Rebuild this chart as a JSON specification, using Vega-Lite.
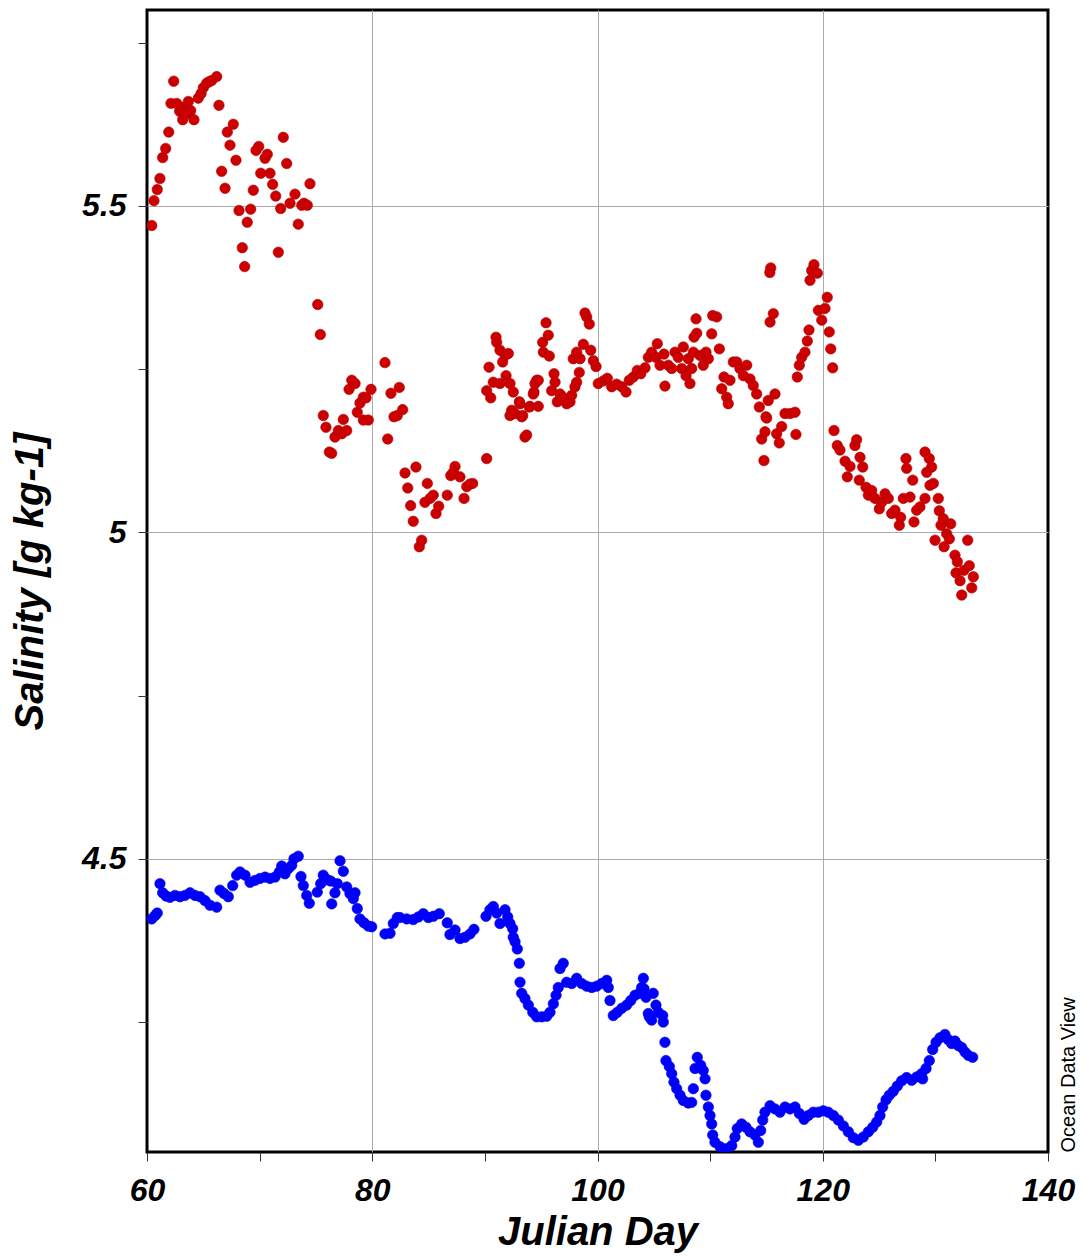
{
  "$schema": "https://vega.github.io/schema/vega-lite/v6.json",
  "width": 901,
  "height": 1142,
  "autosize": {"type": "none"},
  "padding": {"left": 147, "top": 10, "right": 39, "bottom": 104},
  "background": "white",
  "config": {
    "view": {"stroke": "black", "strokeWidth": 3},
    "axis": {
      "labelFont": "Liberation Sans",
      "titleFont": "Liberation Sans",
      "labelColor": "black",
      "titleColor": "black",
      "labelFontStyle": "italic",
      "labelFontWeight": "bold",
      "titleFontStyle": "italic",
      "titleFontWeight": "bold",
      "labelFontSize": 32,
      "titleFontSize": 40,
      "tickColor": "#333333",
      "tickWidth": 1,
      "tickSize": 9,
      "domain": false,
      "labelFlush": false,
      "labelOverlap": false,
      "gridColor": "#aaaaaa",
      "gridWidth": 1,
      "gridOpacity": 1
    }
  },
  "datasets": {
    "red": [
      {"d":60.42,"s":5.470},{"d":60.62,"s":5.508},{"d":60.91,"s":5.525},{"d":61.15,"s":5.542},{"d":61.39,"s":5.574},{"d":61.66,"s":5.588},{"d":61.93,"s":5.613},{"d":62.13,"s":5.657},{"d":62.37,"s":5.691},{"d":62.64,"s":5.657},{"d":62.9,"s":5.645},{"d":63.08,"s":5.651},{"d":63.17,"s":5.632},{"d":63.4,"s":5.640},{"d":63.67,"s":5.660},{"d":63.88,"s":5.646},{"d":64.17,"s":5.632},{"d":64.55,"s":5.665},{"d":64.8,"s":5.672},{"d":65.0,"s":5.681},{"d":65.3,"s":5.688},{"d":65.5,"s":5.690},{"d":65.74,"s":5.692},{"d":66.19,"s":5.698},{"d":66.39,"s":5.654},{"d":66.63,"s":5.553},{"d":66.93,"s":5.527},{"d":67.13,"s":5.613},{"d":67.37,"s":5.593},{"d":67.66,"s":5.625},{"d":67.9,"s":5.570},{"d":68.17,"s":5.493},{"d":68.46,"s":5.436},{"d":68.67,"s":5.407},{"d":68.9,"s":5.475},{"d":69.2,"s":5.495},{"d":69.44,"s":5.524},{"d":69.68,"s":5.585},{"d":69.92,"s":5.591},{"d":70.1,"s":5.550},{"d":70.48,"s":5.573},{"d":70.68,"s":5.579},{"d":70.92,"s":5.550},{"d":71.16,"s":5.533},{"d":71.43,"s":5.515},{"d":71.66,"s":5.429},{"d":71.87,"s":5.496},{"d":72.1,"s":5.605},{"d":72.4,"s":5.565},{"d":72.7,"s":5.504},{"d":73.14,"s":5.518},{"d":73.43,"s":5.472},{"d":73.74,"s":5.501},{"d":73.94,"s":5.504},{"d":74.23,"s":5.501},{"d":74.47,"s":5.534},
      {"d":75.16,"s":5.349},{"d":75.39,"s":5.303},{"d":75.65,"s":5.179},{"d":75.89,"s":5.161},{"d":76.19,"s":5.123},{"d":76.40,"s":5.121},{"d":76.69,"s":5.146},{"d":76.99,"s":5.156},{"d":77.29,"s":5.151},{"d":77.43,"s":5.173},{"d":77.73,"s":5.156},{"d":77.94,"s":5.219},{"d":78.18,"s":5.233},{"d":78.47,"s":5.228},{"d":78.67,"s":5.184},{"d":78.91,"s":5.198},{"d":79.21,"s":5.207},{"d":79.45,"s":5.206},{"d":79.21,"s":5.172},{"d":79.65,"s":5.172},{"d":79.89,"s":5.219},{"d":81.13,"s":5.260},{"d":81.37,"s":5.143},{"d":81.66,"s":5.213},{"d":81.93,"s":5.177},{"d":82.22,"s":5.179},{"d":82.40,"s":5.222},{"d":82.70,"s":5.188},{"d":82.91,"s":5.091},{"d":83.15,"s":5.068},{"d":83.41,"s":5.041},{"d":83.64,"s":5.017},{"d":83.88,"s":5.100},{"d":84.18,"s":4.978},{"d":84.39,"s":4.988},{"d":84.68,"s":5.046},{"d":84.89,"s":5.075},{"d":85.13,"s":5.052},{"d":85.42,"s":5.057},{"d":85.66,"s":5.029},{"d":85.90,"s":5.040},{"d":86.66,"s":5.057},{"d":86.97,"s":5.087},{"d":87.20,"s":5.092},{"d":87.35,"s":5.101},{"d":87.79,"s":5.085},{"d":88.15,"s":5.052},{"d":88.39,"s":5.070},{"d":88.68,"s":5.074},{"d":88.92,"s":5.075},{"d":90.16,"s":5.113},{"d":90.16,"s":5.217},{"d":90.37,"s":5.253},{"d":90.52,"s":5.206},{"d":90.75,"s":5.230},{"d":90.99,"s":5.299},{"d":91.05,"s":5.291},{"d":91.34,"s":5.279},{"d":91.34,"s":5.228},{"d":91.58,"s":5.261},{"d":91.79,"s":5.271},{"d":91.88,"s":5.240},{"d":92.08,"s":5.274},{"d":92.23,"s":5.228},{"d":92.23,"s":5.179},{"d":92.38,"s":5.187},{"d":92.52,"s":5.215},{"d":92.68,"s":5.182},{"d":93.06,"s":5.200},{"d":93.27,"s":5.177},{"d":93.56,"s":5.146},{"d":93.71,"s":5.149},{"d":93.95,"s":5.192},{"d":94.30,"s":5.212},{"d":94.60,"s":5.233},
      {"d":93.12,"s":5.197},{"d":93.36,"s":5.179},{"d":94.01,"s":5.193},{"d":94.36,"s":5.215},{"d":94.45,"s":5.228},{"d":94.74,"s":5.233},{"d":94.74,"s":5.193},{"d":95.13,"s":5.291},{"d":95.43,"s":5.321},{"d":95.63,"s":5.302},{"d":95.19,"s":5.276},{"d":95.72,"s":5.270},{"d":95.93,"s":5.217},{"d":96.14,"s":5.243},{"d":96.23,"s":5.230},{"d":96.43,"s":5.200},{"d":96.67,"s":5.212},{"d":96.91,"s":5.207},{"d":97.26,"s":5.197},{"d":97.56,"s":5.200},{"d":97.71,"s":5.210},{"d":98.00,"s":5.223},{"d":98.15,"s":5.230},{"d":98.38,"s":5.245},{"d":97.85,"s":5.266},{"d":98.15,"s":5.276},{"d":98.45,"s":5.266},{"d":98.74,"s":5.288},{"d":98.89,"s":5.336},{"d":99.04,"s":5.330},{"d":99.27,"s":5.319},{"d":99.40,"s":5.279},{"d":99.63,"s":5.263},{"d":99.87,"s":5.254},{"d":100.07,"s":5.228},{"d":100.52,"s":5.232},{"d":100.87,"s":5.236},{"d":101.26,"s":5.223},{"d":101.70,"s":5.227},{"d":102.15,"s":5.223},{"d":102.53,"s":5.215},{"d":102.82,"s":5.233},{"d":103.18,"s":5.238},{"d":103.53,"s":5.248},{"d":103.84,"s":5.243},{"d":104.22,"s":5.252},{"d":104.51,"s":5.268},{"d":104.81,"s":5.276},{"d":105.19,"s":5.268},{"d":105.31,"s":5.289},{"d":105.55,"s":5.256},{"d":105.99,"s":5.224},{"d":105.90,"s":5.273},{"d":106.29,"s":5.256},{"d":106.59,"s":5.251},{"d":106.88,"s":5.276},{"d":107.17,"s":5.268},{"d":107.62,"s":5.284},{"d":107.48,"s":5.251},{"d":107.86,"s":5.240},{"d":108.21,"s":5.228},{"d":108.06,"s":5.266},{"d":108.36,"s":5.251},{"d":108.51,"s":5.276},{"d":108.57,"s":5.299},{"d":108.81,"s":5.305},{"d":108.75,"s":5.327},{"d":109.10,"s":5.271},{"d":109.39,"s":5.256},{"d":109.63,"s":5.276},{"d":109.84,"s":5.266},{"d":110.14,"s":5.304},{"d":110.23,"s":5.332},{"d":110.58,"s":5.330},{"d":110.82,"s":5.281},{"d":111.03,"s":5.220},{"d":111.23,"s":5.238},{"d":111.47,"s":5.207},{"d":111.61,"s":5.197},{"d":111.76,"s":5.233},{"d":112.06,"s":5.261},{"d":112.36,"s":5.261},{"d":112.65,"s":5.251},{"d":112.95,"s":5.240},{"d":113.25,"s":5.256},{"d":113.54,"s":5.235},{"d":113.83,"s":5.225},{"d":114.13,"s":5.212},{"d":114.37,"s":5.192},{"d":114.58,"s":5.143},{"d":114.78,"s":5.110},{"d":114.96,"s":5.177},{"d":115.16,"s":5.202},{"d":115.32,"s":5.322},{"d":115.61,"s":5.335},{"d":115.76,"s":5.212},{"d":115.91,"s":5.151},
      {"d":114.87,"s":5.154},{"d":115.02,"s":5.175},{"d":115.38,"s":5.405},{"d":115.30,"s":5.398},{"d":116.14,"s":5.137},{"d":116.35,"s":5.162},{"d":116.65,"s":5.182},{"d":117.09,"s":5.182},{"d":117.54,"s":5.184},{"d":117.62,"s":5.150},{"d":117.74,"s":5.238},{"d":117.92,"s":5.256},{"d":118.13,"s":5.268},{"d":118.42,"s":5.276},{"d":118.63,"s":5.293},{"d":118.78,"s":5.310},{"d":118.87,"s":5.386},{"d":119.02,"s":5.401},{"d":119.22,"s":5.410},{"d":119.52,"s":5.397},{"d":119.61,"s":5.340},{"d":119.91,"s":5.325},{"d":120.20,"s":5.343},{"d":120.40,"s":5.360},{"d":120.58,"s":5.307},{"d":120.71,"s":5.281},{"d":120.88,"s":5.252},{"d":121.00,"s":5.156},{"d":121.29,"s":5.133},{"d":121.53,"s":5.126},{"d":121.98,"s":5.109},{"d":122.18,"s":5.085},{"d":122.42,"s":5.101},{"d":122.86,"s":5.133},{"d":123.01,"s":5.142},{"d":123.31,"s":5.115},{"d":123.55,"s":5.100},{"d":123.24,"s":5.080},{"d":123.84,"s":5.069},{"d":124.05,"s":5.057},{"d":124.35,"s":5.064},{"d":124.64,"s":5.052},{"d":125.02,"s":5.036},{"d":125.23,"s":5.046},{"d":125.53,"s":5.059},{"d":125.82,"s":5.052},{"d":126.12,"s":5.029},{"d":126.41,"s":5.034},{"d":126.80,"s":5.011},{"d":126.92,"s":5.023},{"d":127.15,"s":5.052},{"d":127.39,"s":5.113},{"d":127.45,"s":5.098},{"d":127.75,"s":5.054},{"d":127.99,"s":5.080},{"d":128.10,"s":5.016},{"d":128.34,"s":5.034},{"d":128.63,"s":5.039},{"d":129.08,"s":5.052},{"d":129.08,"s":5.123},{"d":129.46,"s":5.113},{"d":129.67,"s":5.100},{"d":129.23,"s":5.092},{"d":129.52,"s":5.072},{"d":129.82,"s":5.075},{"d":130.26,"s":5.052},{"d":130.35,"s":5.033},{"d":130.50,"s":5.011},{"d":130.70,"s":5.021},{"d":131.00,"s":4.998},{"d":131.36,"s":5.013},{"d":129.97,"s":4.988},{"d":130.77,"s":4.978},{"d":131.24,"s":4.990},{"d":131.74,"s":4.965},{"d":131.95,"s":4.955},{"d":131.83,"s":4.938},{"d":132.19,"s":4.926},{"d":132.34,"s":4.904},{"d":132.54,"s":4.942},{"d":132.87,"s":4.988},{"d":133.01,"s":4.949},{"d":133.37,"s":4.932},{"d":133.23,"s":4.915}
    ],
    "blue": [
      {"d":60.42,"s":4.408},{"d":60.71,"s":4.413},{"d":60.91,"s":4.417},{"d":61.15,"s":4.462},{"d":61.39,"s":4.448},{"d":61.69,"s":4.443},{"d":62.04,"s":4.441},{"d":62.49,"s":4.444},{"d":62.93,"s":4.442},{"d":63.37,"s":4.444},{"d":63.82,"s":4.448},{"d":64.26,"s":4.444},{"d":64.71,"s":4.442},{"d":65.15,"s":4.436},{"d":65.59,"s":4.429},{"d":66.19,"s":4.426},{"d":66.48,"s":4.452},{"d":66.84,"s":4.447},{"d":67.22,"s":4.442},{"d":67.61,"s":4.459},{"d":67.96,"s":4.475},{"d":68.26,"s":4.480},{"d":68.70,"s":4.475},{"d":69.15,"s":4.464},{"d":69.59,"s":4.467},{"d":70.03,"s":4.470},{"d":70.48,"s":4.472},{"d":70.92,"s":4.470},{"d":71.37,"s":4.472},{"d":71.75,"s":4.480},{"d":71.96,"s":4.489},{"d":72.25,"s":4.477},{"d":72.55,"s":4.485},{"d":72.85,"s":4.490},{"d":73.05,"s":4.500},{"d":73.43,"s":4.504},{"d":73.67,"s":4.473},{"d":73.88,"s":4.459},{"d":74.18,"s":4.444},{"d":74.41,"s":4.432},{"d":75.12,"s":4.449},{"d":75.42,"s":4.462},{"d":75.65,"s":4.475},{"d":76.01,"s":4.468},{"d":76.31,"s":4.466},{"d":76.40,"s":4.431},{"d":76.69,"s":4.448},{"d":76.90,"s":4.462},{"d":77.14,"s":4.497},{"d":77.43,"s":4.481},{"d":77.73,"s":4.457},{"d":78.02,"s":4.447},{"d":78.32,"s":4.439},{"d":78.47,"s":4.448},{"d":78.67,"s":4.424},{"d":78.91,"s":4.408},{"d":79.27,"s":4.402},{"d":79.65,"s":4.397},{"d":79.95,"s":4.396},
      {"d":81.13,"s":4.385},{"d":81.58,"s":4.386},{"d":81.87,"s":4.401},{"d":82.22,"s":4.410},{"d":82.46,"s":4.410},{"d":83.06,"s":4.408},{"d":83.64,"s":4.407},{"d":84.09,"s":4.411},{"d":84.53,"s":4.416},{"d":84.98,"s":4.410},{"d":85.42,"s":4.412},{"d":85.95,"s":4.416},{"d":86.66,"s":4.402},{"d":86.90,"s":4.384},{"d":87.35,"s":4.391},{"d":87.79,"s":4.378},{"d":88.24,"s":4.380},{"d":88.68,"s":4.385},{"d":89.03,"s":4.392},{"d":90.10,"s":4.412},{"d":90.45,"s":4.422},{"d":90.75,"s":4.427},{"d":91.05,"s":4.417},{"d":91.34,"s":4.401},{"d":91.79,"s":4.422},{"d":92.03,"s":4.411},{"d":92.23,"s":4.401},{"d":92.47,"s":4.393},{"d":92.52,"s":4.380},{"d":92.68,"s":4.373},{"d":92.88,"s":4.362},{"d":93.06,"s":4.340},{"d":93.12,"s":4.311},{"d":93.27,"s":4.294},{"d":93.56,"s":4.286},{"d":93.86,"s":4.276},{"d":94.25,"s":4.265},{"d":94.60,"s":4.258},{"d":95.05,"s":4.258},{"d":95.49,"s":4.259},{"d":95.78,"s":4.265},{"d":96.08,"s":4.278},{"d":96.32,"s":4.291},{"d":96.52,"s":4.303},{"d":96.67,"s":4.332},{"d":96.96,"s":4.340},{"d":97.26,"s":4.311},{"d":97.71,"s":4.309},{"d":98.15,"s":4.317},{"d":98.60,"s":4.309},{"d":99.04,"s":4.305},{"d":99.49,"s":4.303},{"d":99.93,"s":4.305},{"d":100.37,"s":4.309},{"d":100.82,"s":4.314},{"d":100.96,"s":4.303},{"d":101.11,"s":4.283},{"d":101.40,"s":4.260},{"d":101.76,"s":4.265},{"d":102.15,"s":4.271},{"d":102.59,"s":4.276},{"d":102.95,"s":4.283},{"d":103.33,"s":4.291},{"d":103.71,"s":4.294},{"d":104.07,"s":4.317},{"d":103.92,"s":4.303},{"d":104.13,"s":4.301},{"d":104.31,"s":4.288},{"d":104.51,"s":4.263},{"d":104.60,"s":4.258},{"d":104.81,"s":4.253},{"d":104.95,"s":4.294},{"d":105.19,"s":4.276},{"d":105.40,"s":4.265},{"d":105.79,"s":4.260},{"d":105.84,"s":4.250},{"d":105.99,"s":4.219},{"d":106.08,"s":4.191},
      {"d":106.38,"s":4.182},{"d":106.59,"s":4.171},{"d":106.79,"s":4.158},{"d":107.03,"s":4.148},{"d":107.33,"s":4.138},{"d":107.62,"s":4.130},{"d":108.06,"s":4.126},{"d":108.36,"s":4.127},{"d":108.51,"s":4.148},{"d":108.66,"s":4.179},{"d":108.86,"s":4.196},{"d":109.16,"s":4.184},{"d":109.39,"s":4.176},{"d":109.55,"s":4.163},{"d":109.63,"s":4.138},{"d":109.84,"s":4.120},{"d":109.99,"s":4.107},{"d":110.14,"s":4.094},{"d":110.23,"s":4.077},{"d":110.43,"s":4.066},{"d":110.88,"s":4.059},{"d":111.41,"s":4.056},{"d":111.92,"s":4.061},{"d":112.21,"s":4.074},{"d":112.41,"s":4.087},{"d":112.80,"s":4.094},{"d":113.18,"s":4.089},{"d":113.54,"s":4.082},{"d":113.98,"s":4.077},{"d":114.28,"s":4.066},{"d":114.49,"s":4.084},{"d":114.67,"s":4.100},{"d":114.87,"s":4.112},{"d":115.32,"s":4.122},{"d":115.76,"s":4.117},{"d":116.20,"s":4.112},{"d":116.65,"s":4.120},{"d":117.09,"s":4.117},{"d":117.54,"s":4.120},{"d":117.92,"s":4.110},{"d":118.34,"s":4.101},{"d":118.72,"s":4.107},{"d":119.16,"s":4.112},{"d":119.61,"s":4.112},{"d":120.05,"s":4.114},{"d":120.49,"s":4.112},{"d":120.94,"s":4.107},{"d":121.38,"s":4.100},{"d":121.83,"s":4.091},{"d":122.27,"s":4.082},{"d":122.71,"s":4.073},{"d":123.16,"s":4.069},{"d":123.60,"s":4.074},{"d":124.05,"s":4.082},{"d":124.44,"s":4.089},{"d":124.79,"s":4.097},{"d":125.08,"s":4.107},{"d":125.32,"s":4.120},{"d":125.62,"s":4.131},{"d":125.91,"s":4.138},{"d":126.26,"s":4.144},{"d":126.62,"s":4.152},{"d":127.01,"s":4.160},{"d":127.45,"s":4.165},{"d":127.90,"s":4.161},{"d":128.34,"s":4.166},{"d":128.87,"s":4.163},{"d":128.78,"s":4.171},{"d":129.17,"s":4.179},{"d":129.46,"s":4.191},{"d":129.76,"s":4.208},{"d":130.06,"s":4.219},{"d":130.41,"s":4.226},{"d":130.85,"s":4.231},{"d":131.15,"s":4.223},{"d":131.45,"s":4.217},{"d":131.74,"s":4.221},{"d":132.04,"s":4.214},{"d":132.34,"s":4.211},{"d":132.63,"s":4.204},{"d":132.92,"s":4.199},{"d":133.31,"s":4.196}
    ]
  },
  "layer": [
    {
      "data": {"name": "red"},
      "mark": {"type": "circle", "size": 110, "color": "#cc0000", "opacity": 1, "stroke": "#b00000", "strokeWidth": 0.6, "clip": true},
      "encoding": {
        "x": {
          "field": "d", "type": "quantitative",
          "scale": {"domain": [60, 140], "nice": false, "zero": false},
          "axis": {
            "orient": "bottom",
            "values": [60, 70, 80, 90, 100, 110, 120, 130, 140],
            "labelExpr": "datum.value % 20 == 0 ? toString(datum.value) : ''",
            "grid": false,
            "labelPadding": 14,
            "title": "Julian Day",
            "titlePadding": 6
          }
        },
        "y": {
          "field": "s", "type": "quantitative",
          "scale": {"domain": [4.051, 5.8], "nice": false, "zero": false},
          "axis": {
            "orient": "left",
            "values": [4.25, 4.5, 4.75, 5, 5.25, 5.5, 5.75],
            "labelExpr": "(datum.value == 4.5 || datum.value == 5 || datum.value == 5.5) ? toString(datum.value) : ''",
            "grid": false,
            "labelPadding": 12,
            "title": "Salinity [g kg-1]",
            "titlePadding": 31
          }
        }
      }
    },
    {
      "data": {"name": "blue"},
      "mark": {"type": "circle", "size": 110, "color": "#0000ff", "opacity": 1, "stroke": "#0000dd", "strokeWidth": 0.6, "clip": true},
      "encoding": {
        "x": {
          "field": "d", "type": "quantitative",
          "scale": {"domain": [60, 140], "nice": false, "zero": false},
          "axis": {
            "orient": "top",
            "values": [80, 100, 120],
            "grid": true,
            "ticks": false,
            "labels": false,
            "title": null
          }
        },
        "y": {
          "field": "s", "type": "quantitative",
          "scale": {"domain": [4.051, 5.8], "nice": false, "zero": false},
          "axis": {
            "orient": "right",
            "values": [4.5, 5, 5.5],
            "grid": true,
            "ticks": false,
            "labels": false,
            "title": "Ocean Data View",
            "titleFontSize": 20,
            "titleFontWeight": "normal",
            "titleFontStyle": "normal",
            "titleFont": "Liberation Sans",
            "titleAngle": -90,
            "titleBaseline": "top",
            "titleAnchor": "start",
            "titlePadding": 10
          }
        }
      }
    }
  ],
  "resolve": {"axis": {"x": "independent", "y": "independent"}}
}
